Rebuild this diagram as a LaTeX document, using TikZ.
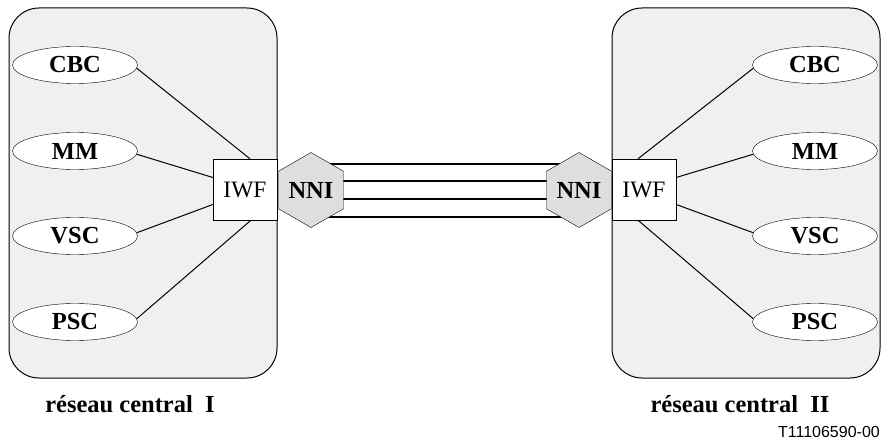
\documentclass[tikz,border=0pt]{standalone}
\usepackage{fontspec}
\setmainfont{Liberation Serif}
\newfontfamily\hvfont{Liberation Sans}
\usetikzlibrary{shapes.geometric}
\usetikzlibrary{backgrounds}

\begin{document}
\begin{tikzpicture}[x=1pt,y=-1pt,
    core/.style={draw,line width=1pt,fill=black!6,rounded corners=30pt,minimum width=268pt,minimum height=370pt},
    svc/.style={draw,fill=white,ellipse,minimum width=125pt,minimum height=37pt,inner sep=0pt,font=\fontsize{24.5}{28}\selectfont\bfseries},
    iwf/.style={draw,fill=white,minimum width=64pt,minimum height=61pt,inner sep=0pt,font=\fontsize{23.5}{27}\selectfont},
    nni/.style={draw,fill=black!13,regular polygon,regular polygon sides=6,shape border rotate=30,minimum size=75pt,inner sep=0pt,font=\fontsize{24.5}{28}\selectfont\bfseries},
    link/.style={draw,line width=1pt},
    trunk/.style={draw,line width=1.6pt}]
\useasboundingbox (0,0) rectangle (885,443);

\node[core] (coreL) at (143,193) {};
\node[core] (coreR) at (746,193) {};

    \foreach \n/\y in {CBC/65, MM/151, VSC/236, PSC/322}
    {
        \node[svc] (\n L) at (75,\y) {\n};
        \node[svc] (\n R) at (815,\y) {\n};
    }

\node[iwf] (iwfL) at (245,189.5) {IWF};
\node[iwf] (iwfR) at (644,189.5) {IWF};
\node[nni] (nniL) at (311,190) {NNI};
\node[nni] (nniR) at (579,190) {NNI};

\begin{scope}[on background layer]
    \foreach \d in {26, 9, -9, -27}
        \draw[trunk] ([yshift=\d pt]nniL.center) -- ([yshift=\d pt]nniR.center);
\end{scope}

\draw[link] (CBCL.-3) -- ([xshift=5pt]iwfL.north);
\draw[link] (MML.-3) -- ([yshift=12pt]iwfL.west);
\draw[link] (VSCL.3) -- ([yshift=-15pt]iwfL.west);
\draw[link] (PSCL.3) -- ([xshift=6pt]iwfL.south);
\draw[link] (CBCR.183) -- ([xshift=-6pt]iwfR.north);
\draw[link] (MMR.183) -- ([yshift=12pt]iwfR.east);
\draw[link] (VSCR.177) -- ([yshift=-15pt]iwfR.east);
\draw[link] (PSCR.177) -- ([xshift=-6pt]iwfR.south);

\node[font=\fontsize{24.5}{28}\selectfont\bfseries] (nameL) at (130,404) {réseau central\ \ I};
\node[font=\fontsize{24.5}{28}\selectfont\bfseries] (nameR) at (740,404) {réseau central\ \ II};
\node[anchor=east,inner sep=0pt,font=\hvfont\fontsize{16}{19}\selectfont] (code) at (880,432) {T11106590-00};

\end{tikzpicture}
\end{document}
